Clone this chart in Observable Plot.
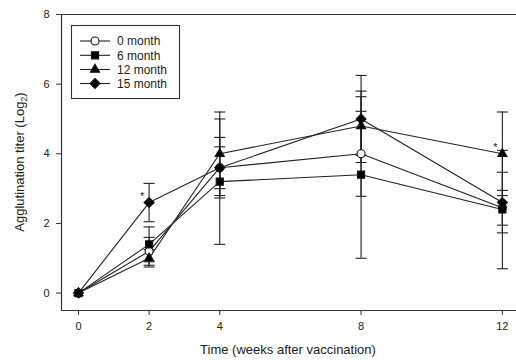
<!DOCTYPE html>
<html><head><meta charset="utf-8">
<script src="https://cdn.jsdelivr.net/npm/d3@7"></script>
<script src="https://cdn.jsdelivr.net/npm/@observablehq/plot@0.6"></script>
<style>body{margin:0;background:#fff}#chart{width:516px;height:363px}</style>
</head><body><div id="chart"></div>
<script>
const weeks = [0, 2, 4, 8, 12];
const seriesNames = ["0 month", "6 month", "12 month", "15 month"];
const mean0 = [0, 1.2, 3.6, 4.0, 2.45];
const err0 = [0, 0.4, 0.6, 1.22, 0.5];
const mean6 = [0, 1.4, 3.2, 3.4, 2.4];
const err6 = [0, 0.5, 1.8, 2.4, 1.7];
const mean12 = [0, 1.0, 4.0, 4.8, 4.0];
const err12 = [0, 0.25, 1.2, 0.84, 1.2];
const mean15 = [0, 2.6, 3.6, 5.0, 2.6];
const err15 = [0, 0.55, 0.87, 1.25, 0.87];
const xTicks = [0, 2, 4, 8, 12];
const yTicks = [0, 2, 4, 6, 8];
const starWeeks = [2, 12];
const starValues = [2.6, 4.0];
const xLabel = "Time (weeks after vaccination)";
const yLabelMain = "Agglutination titer (Log";

const means = [mean0, mean6, mean12, mean15];
const errs = [err0, err6, err12, err15];
const symbols = ["circle", "square", "triangle", "diamond2"];
const radii = [4, 4, 3.4, 4.5];
const fills = ["white", "black", "black", "black"];
const rows = [];
seriesNames.forEach((s, i) => weeks.forEach((w, j) =>
  rows.push({series: s, week: w, value: means[i][j], err: errs[i][j]})));
const errRows = rows.filter(d => d.err > 0);
const stars = starWeeks.map((w, i) => ({week: w, value: starValues[i]}));

const cap = {draw(ctx) { ctx.moveTo(-5.5, 0); ctx.lineTo(5.5, 0); }};
const ink = "#222";

const dotMarks = seriesNames.map((s, i) =>
  Plot.dot(rows.filter(d => d.series === s), {x: "week", y: "value", symbol: symbols[i],
    fill: fills[i], stroke: "#111", strokeWidth: 1.1, r: radii[i]}));

const chart = Plot.plot({
  width: 516, height: 363,
  marginLeft: 61, marginRight: 0, marginTop: 14, marginBottom: 53,
  x: {domain: [-0.48, 12.4]},
  y: {domain: [-0.5, 8]},
  style: {fontFamily: "'Liberation Sans', Arial, sans-serif", fontSize: "11px", color: ink, background: "white"},
  marks: [
    Plot.ruleY([8], {stroke: "#333", strokeWidth: 1.2}),
    Plot.ruleY([-0.5], {stroke: "#333", strokeWidth: 1.2}),
    Plot.ruleX([-0.48], {stroke: "#333", strokeWidth: 1.2}),
    Plot.axisY({ticks: yTicks, tickSize: 5, tickPadding: 7, label: null, tickFormat: d => d, fontSize: 11, stroke: "#333"}),
    Plot.axisX({ticks: xTicks, tickSize: 5, tickPadding: 7, label: null, tickFormat: d => d, fontSize: 11, stroke: "#333"}),
    Plot.line(rows, {x: "week", y: "value", z: "series", stroke: ink, strokeWidth: 1.1}),
    Plot.ruleX(errRows, {x: "week", y1: d => d.value - d.err, y2: d => d.value + d.err, stroke: ink, strokeWidth: 1.1}),
    Plot.dot(errRows, {x: "week", y: d => d.value - d.err, symbol: cap, fill: "none", stroke: ink, strokeWidth: 1.1, r: 3}),
    Plot.dot(errRows, {x: "week", y: d => d.value + d.err, symbol: cap, fill: "none", stroke: ink, strokeWidth: 1.1, r: 3}),
    ...dotMarks,
    Plot.text(stars, {x: "week", y: "value", text: () => "*", dx: -7, dy: -6, fontSize: 11, fill: ink})
  ]
});
document.getElementById("chart").appendChild(chart);

const svg = d3.select(chart);
// Y axis title with subscript
const yl = svg.append("text")
  .attr("transform", "translate(24,162) rotate(-90)")
  .attr("text-anchor", "middle")
  .attr("fill", ink)
  .style("font-size", "13px");
yl.append("tspan").text(yLabelMain);
yl.append("tspan").attr("dy", 3).style("font-size", "9px").text("2");
yl.append("tspan").attr("dy", -3).text(")");
// X axis title
svg.append("text").attr("x", 288).attr("y", 354).attr("text-anchor", "middle")
  .attr("fill", ink).style("font-size", "13px").text(xLabel);

// Legend
const lg = svg.append("g");
lg.append("rect").attr("x", 71.5).attr("y", 25.5).attr("width", 108).attr("height", 73)
  .attr("fill", "white").attr("stroke", "#333").attr("stroke-width", 1.1);
const d3Sym = {circle: d3.symbolCircle, square: d3.symbolSquare, triangle: d3.symbolTriangle, diamond2: d3.symbolDiamond2};
const rowY = [41, 55.3, 69.5, 83.5];
seriesNames.forEach((s, i) => {
  const y = rowY[i];
  lg.append("line").attr("x1", 80).attr("x2", 110).attr("y1", y).attr("y2", y).attr("stroke", ink).attr("stroke-width", 1.1);
  lg.append("path").attr("transform", `translate(95,${y})`)
    .attr("d", d3.symbol(d3Sym[symbols[i]], Math.PI * radii[i] * radii[i])())
    .attr("fill", fills[i]).attr("stroke", "#111").attr("stroke-width", 1.1);
  lg.append("text").attr("x", 117).attr("y", y).attr("dy", "0.35em").attr("fill", ink)
    .attr("text-anchor", "start").style("font-size", "12px").text(s);
});
</script></body></html>
